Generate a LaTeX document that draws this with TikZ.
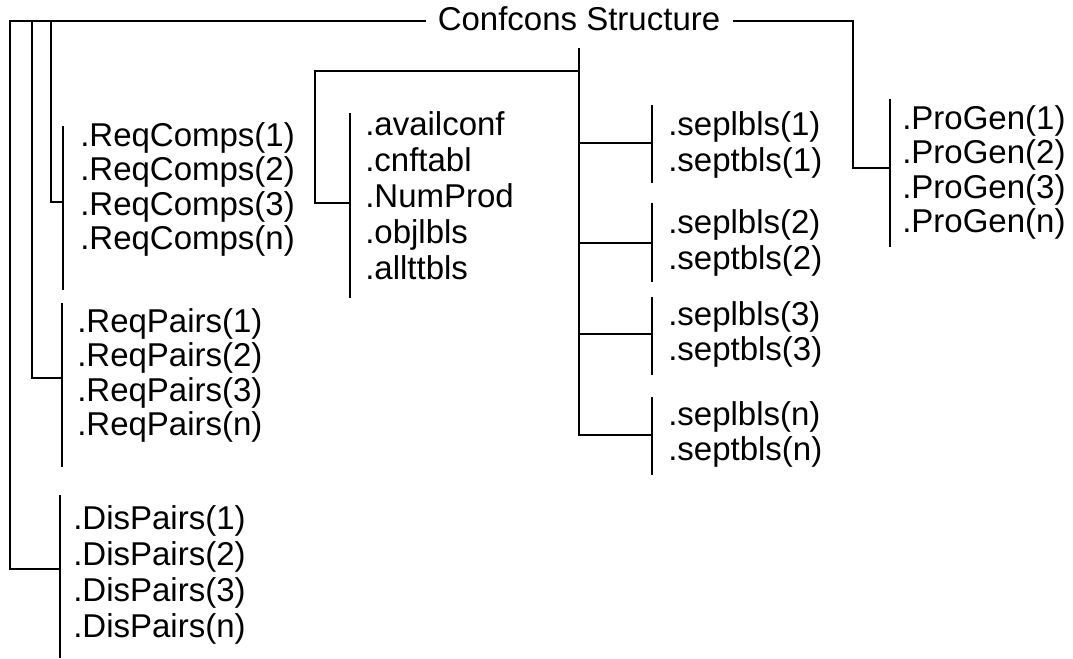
\documentclass[tikz,border=0pt]{standalone}
\usepackage{fontspec}
\setmainfont{Liberation Sans}
\begin{document}
\begin{tikzpicture}[x=0.75pt,y=-0.75pt,
  lbl/.style={anchor=base west, inner sep=0pt, font=\fontsize{24.75pt}{26pt}\selectfont},
  title/.style={inner xsep=9pt, inner ysep=9pt, text height=18pt, text depth=4.5pt,
                font=\fontsize{24.75pt}{26pt}\selectfont},
  wire/.style={draw=black, line width=1.6pt},
  brk/.style={draw=black, line width=1.6pt}]
\useasboundingbox (0,0) rectangle (1073,658);

% root label
\node[title] (root) at (579,21) {Confcons Structure};

% ---- left column ----
\foreach \t [count=\i] in {1,2,3,n}
  \node[lbl] (rc\i) at (80,{146+34.5*(\i-1)}) {.ReqComps(\t)};
\foreach \t [count=\i] in {1,2,3,n}
  \node[lbl] (rp\i) at (77,{332+34.5*(\i-1)}) {.ReqPairs(\t)};
\foreach \t [count=\i] in {1,2,3,n}
  \node[lbl] (dp\i) at (73,{529+36*(\i-1)}) {.DisPairs(\t)};

\coordinate (rcT) at (63,126); \coordinate (rcB) at (63,290); \coordinate (rcJ) at (63,202);
\coordinate (rpT) at (62,303); \coordinate (rpB) at (62,467); \coordinate (rpJ) at (62,378);
\coordinate (dpT) at (60,495); \coordinate (dpB) at (60,658); \coordinate (dpJ) at (60,569);
\draw[brk] (rcT) -- (rcB);
\draw[brk] (rpT) -- (rpB);
\draw[brk] (dpT) -- (dpB);

\coordinate (kA) at (10,21);
\coordinate (kB) at (32,21);
\coordinate (kC) at (51,21);
\draw[wire] (root.west) -- (kA) |- (dpJ);
\draw[wire] (kB) |- (rpJ);
\draw[wire] (kC) |- (rcJ);

% ---- middle column ----
\foreach \t [count=\i] in {.availconf,.cnftabl,.NumProd,.objlbls,.allttbls}
  \node[lbl] (md\i) at (365,{135+36*(\i-1)}) {\t};
\coordinate (mdT) at (350,113); \coordinate (mdB) at (350,298); \coordinate (mdJ) at (350,203);
\draw[brk] (mdT) -- (mdB);
\coordinate (mdK) at (315,203);
\coordinate (tr1) at (579,71);
\draw[wire] (tr1) -| (mdK) -- (mdJ);

% ---- separator groups ----
\foreach \t/\a/\b/\top/\bot/\j [count=\i] in
  {1/135/171/105/183/143, 2/233/269/203/282/243, 3/325/360/297/375/334, n/425/460/397/475/435}{
  \node[lbl] (sl\i) at (668,\a) {.seplbls(\t)};
  \node[lbl] (st\i) at (668,\b) {.septbls(\t)};
  \coordinate (sT\i) at (652,\top);
  \coordinate (sB\i) at (652,\bot);
  \coordinate (sJ\i) at (652,\j);
  \coordinate (sK\i) at (579,\j);
  \draw[brk] (sT\i) -- (sB\i);
}
\draw[wire] (root.south) |- (sJ4);
\draw[wire] (sK1) -- (sJ1);
\draw[wire] (sK2) -- (sJ2);
\draw[wire] (sK3) -- (sJ3);

% ---- right column ----
\foreach \t [count=\i] in {1,2,3,n}
  \node[lbl] (pg\i) at (902,{129+34.5*(\i-1)}) {.ProGen(\t)};
\coordinate (pgT) at (890,99); \coordinate (pgB) at (890,247); \coordinate (pgJ) at (890,168);
\draw[brk] (pgT) -- (pgB);
\coordinate (pgK) at (853,168);
\draw[wire] (root.east) -| (pgK) -- (pgJ);
\end{tikzpicture}
\end{document}
